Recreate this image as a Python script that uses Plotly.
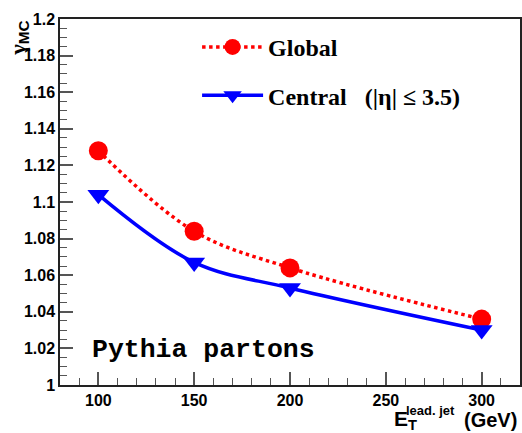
import plotly.graph_objects as go

et = [100, 150, 200, 300]
gamma_global = [1.128, 1.084, 1.064, 1.036]
gamma_central = [1.104, 1.067, 1.053, 1.030]
name_global = "Global"
name_central = "Central\u00a0\u00a0\u00a0(|η| ≤ 3.5)"

fig = go.Figure()
fig.add_trace(go.Scatter(
    x=et, y=gamma_global, mode="lines+markers", name=name_global,
    legendgroup="g", line=dict(color="#ff0000", width=3.5, dash="dot", shape="spline"),
    marker=dict(symbol="circle", size=19, color="#ff0000")))
fig.add_trace(go.Scatter(
    x=et, y=gamma_central, mode="lines+markers", name=name_central,
    legendgroup="c", line=dict(color="#0000ff", width=3.5, shape="spline"),
    marker=dict(symbol="triangle-down", size=19, color="#0000ff")))

axis_common = dict(
    showline=True, linecolor="#222", linewidth=1.5, mirror=True,
    ticks="inside", tickcolor="#555", ticklen=13, tickwidth=1.5,
    showgrid=False, zeroline=False, automargin=False,
    tickfont=dict(family="Liberation Sans", size=16, color="black", weight="bold"),
)
fig.update_xaxes(range=[80, 320], dtick=50, tick0=100,
                 minor=dict(ticks="inside", dtick=10, ticklen=7, tickcolor="#555", tickwidth=1.2),
                 **axis_common)
fig.update_yaxes(range=[1.0, 1.2], dtick=0.02, tick0=1.0,
                 minor=dict(ticks="inside", dtick=0.005, ticklen=7, tickcolor="#555", tickwidth=1.2),
                 **axis_common)

fig.update_layout(
    width=522, height=433,
    margin=dict(l=60, r=2, t=19, b=48),
    paper_bgcolor="white", plot_bgcolor="white",
    showlegend=True,
    legend=dict(x=0.298, y=0.984, xanchor="left", yanchor="top",
                bgcolor="rgba(0,0,0,0)", traceorder="grouped", tracegroupgap=14,
                itemwidth=61,
                font=dict(family="Liberation Serif", size=24, color="black", weight="bold")),
    annotations=[
        dict(text="Pythia partons", xref="paper", yref="paper", x=(90-60)/460, y=(385-350)/366,
             xanchor="left", yanchor="middle", showarrow=False,
             font=dict(family="Liberation Mono", size=26.5, color="black", weight="bold")),
        dict(text="<span style='font-family:Liberation Serif'>γ</span><sub>MC</sub>",
             xref="paper", yref="paper", x=-(60-18)/460, y=1.0, textangle=-90,
             xanchor="center", yanchor="top", showarrow=False,
             font=dict(family="Liberation Sans", size=22, color="black", weight="bold")),
        dict(text="E<sub>T</sub>", xref="paper", yref="paper", x=(392-60)/460, y=-(420-385)/366,
             xanchor="left", yanchor="middle", showarrow=False,
             font=dict(family="Liberation Sans", size=21, color="black", weight="bold")),
        dict(text="lead. jet", xref="paper", yref="paper", x=(404-60)/460, y=-(410-385)/366,
             xanchor="left", yanchor="middle", showarrow=False,
             font=dict(family="Liberation Sans", size=13, color="black", weight="bold")),
        dict(text="(GeV)", xref="paper", yref="paper", x=(519-60)/460, y=-(420-385)/366,
             xanchor="right", yanchor="middle", showarrow=False,
             font=dict(family="Liberation Sans", size=20, color="black", weight="bold")),
    ],
)

fig.write_html("out.html", config={"displayModeBar": False},
               post_script="document.body.style.margin='0px';")
